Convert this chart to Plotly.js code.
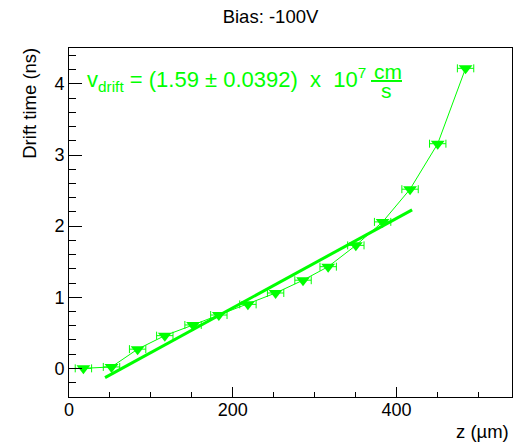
<!DOCTYPE html>
<html>
<head>
<meta charset="utf-8">
<script src="https://cdn.plot.ly/plotly-3.0.1.min.js"></script>
<style>
  html, body { margin: 0; padding: 0; background: #ffffff; }
  #chart { width: 523px; height: 442px; }
</style>
</head>
<body>
<div id="chart"></div>
<script>
// ---- data ----
const zPos   = [17.6, 51.9, 83.8, 117, 151.5, 183, 218.5, 252.3, 285.8, 316.5, 350.3, 383, 416.5, 450.3, 484.3];
const tDrift = [0.00, 0.02, 0.27, 0.46, 0.61, 0.75, 0.90, 1.06, 1.24, 1.43, 1.73, 2.06, 2.52, 3.16, 4.22];
const zErr   = [10, 10, 10, 10, 10, 10, 10, 10, 10, 10, 10, 10, 10, 10, 10];
const fitZ   = [44, 419];
const fitT   = [-0.13, 2.23];
const xTicks = [0, 200, 400];
const yTicks = [0, 1, 2, 3, 4];
const titleText = 'Bias: -100V';
const xTitle = 'z (\u00b5m)';
const yTitle = 'Drift time (ns)';
const NB = '\u00a0';
const fitLabel = 'v<sub>drift</sub> = (1.59 \u00b1 0.0392) ' + NB + 'x ' + NB + '10<sup>7</sup>';
const unitNum = 'cm';
const unitDen = 's';

// ---- layout helpers (pixel -> paper) ----
const W = 523, H = 442;
const L = 69, R = 512, T = 47.7, B = 397;
const px = x => (x - L) / (R - L);
const py = y => (B - y) / (B - T);
const GREEN = '#00ff00';
const FONT = 'Liberation Sans, Arial, Helvetica, sans-serif';

const traces = [
  {
    x: zPos, y: tDrift, type: 'scatter', mode: 'lines+markers',
    line: { color: GREEN, width: 1 },
    marker: { symbol: 'triangle-down', size: 12, color: GREEN },
    error_x: { type: 'data', array: zErr, visible: true, color: GREEN, thickness: 1, width: 4 },
    hoverinfo: 'skip', showlegend: false
  },
  {
    x: fitZ, y: fitT, type: 'scatter', mode: 'lines',
    line: { color: GREEN, width: 3 },
    hoverinfo: 'skip', showlegend: false
  }
];

const axisCommon = {
  showgrid: false, zeroline: false, showline: true, mirror: true,
  linecolor: '#000', linewidth: 1, ticks: 'inside', tickcolor: '#000', tickwidth: 1,
  tickfont: { family: FONT, size: 18, color: '#000' }
};

const layout = {
  width: W, height: H,
  margin: { l: L, r: W - R, t: T, b: H - B, pad: 0 },
  paper_bgcolor: '#fff', plot_bgcolor: '#fff',
  showlegend: false,
  title: {
    text: titleText, font: { family: FONT, size: 18.5, color: '#000' },
    xref: 'paper', x: px(270.5), xanchor: 'center',
    yref: 'container', y: 1 - 17 / H, yanchor: 'middle'
  },
  xaxis: Object.assign({}, axisCommon, {
    range: [0, 541], tickvals: xTicks, ticklen: 10, ticklabelstandoff: -4,
    minor: { dtick: 50, ticklen: 5, ticks: 'inside', tickcolor: '#000', tickwidth: 1, showgrid: false }
  }),
  yaxis: Object.assign({}, axisCommon, {
    range: [-0.403, 4.506], tickvals: yTicks, ticklen: 13,
    minor: { dtick: 0.2, ticklen: 7, ticks: 'inside', tickcolor: '#000', tickwidth: 1, showgrid: false }
  }),
  annotations: [
    { text: yTitle, textangle: -90, xref: 'paper', yref: 'paper', x: px(30), y: py(103.5),
      xanchor: 'center', yanchor: 'middle', showarrow: false,
      font: { family: FONT, size: 18.5, color: '#000' } },
    { text: xTitle, xref: 'paper', yref: 'paper', x: px(511), y: py(431.5),
      xanchor: 'right', yanchor: 'middle', showarrow: false,
      font: { family: FONT, size: 18.5, color: '#000' } },
    { text: fitLabel, xref: 'paper', yref: 'paper', x: px(85), y: py(79),
      xanchor: 'left', yanchor: 'middle', showarrow: false,
      font: { family: FONT, size: 22, color: GREEN } },
    { text: unitNum, xref: 'paper', yref: 'paper', x: px(388), y: py(71.5),
      xanchor: 'center', yanchor: 'middle', showarrow: false, borderpad: 0,
      font: { family: FONT, size: 21, color: GREEN } },
    { text: unitDen, xref: 'paper', yref: 'paper', x: px(386.5), y: py(90.5),
      xanchor: 'center', yanchor: 'middle', showarrow: false, borderpad: 0,
      font: { family: FONT, size: 21, color: GREEN } }
  ],
  shapes: [
    { type: 'line', xref: 'paper', yref: 'paper', x0: px(371), x1: px(402), y0: py(80.7), y1: py(80.7),
      line: { color: GREEN, width: 2 } }
  ]
};

Plotly.newPlot('chart', traces, layout, { staticPlot: true, displayModeBar: false });
</script>
</body>
</html>
